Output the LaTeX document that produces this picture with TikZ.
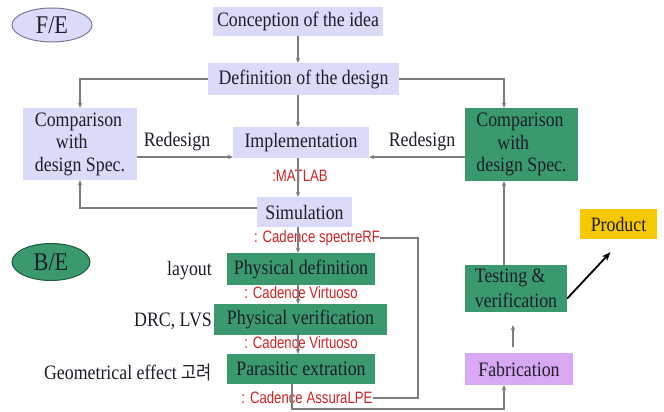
\documentclass[tikz,border=0pt]{standalone}
\usepackage{fontspec}
\setmainfont[FakeStretch=0.87]{Liberation Serif}
\newfontfamily\redf[FakeStretch=0.8]{Liberation Sans}
\newfontfamily\krf[FakeStretch=0.87]{Noto Sans CJK KR}
\usetikzlibrary{arrows.meta,shapes.geometric}
\definecolor{lav}{RGB}{218,218,249}
\definecolor{grn}{RGB}{58,154,110}
\definecolor{grnd}{RGB}{30,90,60}
\definecolor{fabc}{RGB}{216,168,244}
\definecolor{prodc}{RGB}{245,200,0}
\definecolor{lineg}{RGB}{125,125,125}
\definecolor{redc}{RGB}{210,35,35}
\definecolor{txt}{RGB}{30,30,40}
\definecolor{elb}{RGB}{120,120,150}
\begin{document}
\begin{tikzpicture}[x=1pt,y=-1pt,
  box/.style={inner sep=0pt, align=center, text=txt, font=\fontsize{20.5}{22.5}\selectfont},
  lav/.style={box, fill=lav},
  grn/.style={box, fill=grn},
  lbl/.style={text=txt, font=\fontsize{20.5}{22.5}\selectfont, inner sep=0pt},
  redlbl/.style={text=redc, font=\redf\fontsize{16.5}{18}\selectfont, inner sep=0pt},
  conn/.style={draw=lineg, line width=1.7pt},
  arr/.style={conn, -{Stealth[length=5pt,width=4.5pt]}},
  ell/.style={ellipse, inner sep=0pt, line width=1pt, text=txt, font=\fontsize{25.5}{27}\selectfont}
]
\useasboundingbox (0,0) rectangle (664,412);
\fill[white] (0,0) rectangle (664,412);

% ellipses
\node[ell, fill=lav, draw=elb, minimum width=80pt, minimum height=34pt] (fe) at (52,25) {F/E};
\node[ell, fill=grn, draw=grnd, minimum width=78pt, minimum height=37pt] (be) at (51,262) {B/E};

% boxes
\node[lav, minimum width=170pt, minimum height=29pt] (conc) at (298,21.5) {Conception of the idea};
\node[lav, minimum width=191pt, minimum height=32pt] (defn) at (303.5,79) {Definition of the design};
\node[lav, minimum width=114pt, minimum height=72pt, align=left] (cmpL) at (80,144) {Comparison\\\hspace*{21pt}with\\design Spec.};
\node[grn, minimum width=113pt, minimum height=73pt, align=left] (cmpR) at (521.5,144.5) {Comparison\\\hspace*{21pt}with\\design Spec.};
\node[lav, minimum width=136pt, minimum height=31pt] (impl) at (301,142.5) {Implementation};
\node[lav, minimum width=95pt, minimum height=30pt] (sim) at (304.5,212) {Simulation};
\node[grn, minimum width=148pt, minimum height=32pt] (pdef) at (301,269) {Physical definition};
\node[grn, minimum width=173pt, minimum height=31pt] (pver) at (300.5,319.5) {Physical verification};
\node[grn, minimum width=148pt, minimum height=30pt] (para) at (301,369) {Parasitic extration};
\node[grn, minimum width=102pt, minimum height=47pt, align=left, font=\fontsize{20.5}{25}\selectfont] (test) at (516,288.5) {Testing \&\\verification};
\node[box, fill=fabc, minimum width=108pt, minimum height=32pt] (fab) at (519,369) {Fabrication};
\node[box, fill=prodc, minimum width=77pt, minimum height=30pt] (prod) at (618.5,224) {Product};

% labels
\node[lbl] (rdl) at (177,142) {Redesign};
\node[lbl] (rdr) at (422,142) {Redesign};
\node[redlbl] (lmat) at (300,176) {:MATLAB};
\node[redlbl] (lspec) at (317,238) {: Cadence spectreRF};
\node[redlbl] (lv1) at (301,293) {: Cadence Virtuoso};
\node[redlbl] (lv2) at (301,343) {: Cadence Virtuoso};
\node[redlbl] (lass) at (307,398) {: Cadence AssuraLPE};
\node[lbl, anchor=east] (llay) at (212,271) {layout};
\node[lbl, anchor=east] (ldrc) at (212,321) {DRC, LVS};
\node[lbl, anchor=east] (lgeo) at (212,372) {Geometrical effect {\krf\fontsize{19}{20}\selectfont 고려}};

% helper coordinates
\coordinate (cx) at (298,0);
\coordinate (rx) at (504,0);
\coordinate (ry) at (0,157);
\coordinate (px) at (292,0);
\coordinate (by) at (0,409);
\coordinate (lx) at (418,0);
\coordinate (fx) at (513,0);

% connectors
\draw[arr] (conc.south -| cx) -- (cx |- defn.north);
\draw[arr] (defn.west) -| (cmpL.north);
\draw[arr] (defn.east) -| (rx |- cmpR.north);
\draw[arr] (cx |- defn.south) -- (cx |- impl.north);
\draw[arr] (cmpL.east |- ry) -- (impl.west |- ry);
\draw[arr] (cmpR.west |- ry) -- (impl.east |- ry);
\draw[arr] (cx |- impl.south) -- (cx |- sim.north);
\draw[arr] ([yshift=4pt]sim.west) -| (cmpL.south);
\draw[arr] (cx |- sim.south) -- (cx |- pdef.north);
\draw[arr] (cx |- pdef.south) -- (cx |- pver.north);
\draw[arr] (cx |- pver.south) -- (cx |- para.north);
\draw[conn] (lspec.east) -- (lspec.east -| lx) |- (lass.east);
\draw[arr] (px |- para.south) -- (px |- by) -| (rx |- fab.south);
\draw[arr, shorten <=6pt, shorten >=13pt] (fx |- fab.north) -- (fx |- test.south);
\draw[arr] (rx |- test.north) -- (rx |- cmpR.south);
\draw[black, line width=1.8pt, -{Stealth[length=9pt,width=7pt]}] ([yshift=-10pt]test.east) -- ([xshift=-8pt,yshift=-13pt]prod.south);
\end{tikzpicture}
\end{document}
